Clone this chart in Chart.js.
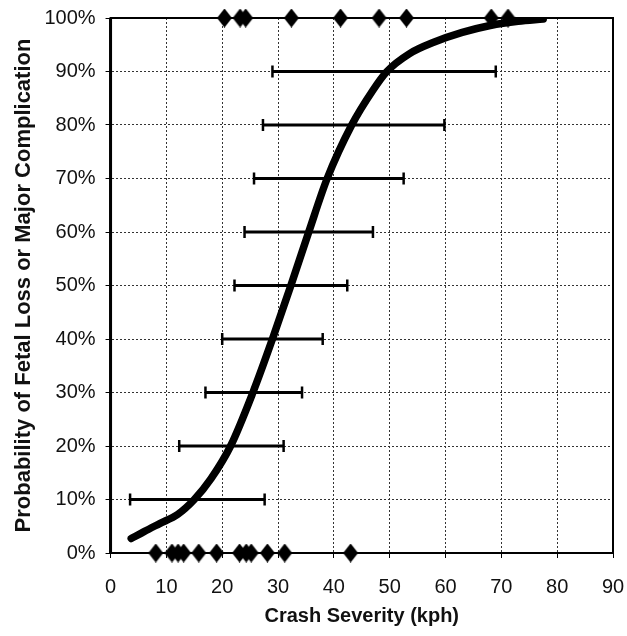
<!DOCTYPE html>
<html>
<head>
<meta charset="utf-8">
<script src="https://cdn.jsdelivr.net/npm/chart.js@4.4.1/dist/chart.umd.min.js"></script>
<style>
  html,body{margin:0;padding:0;background:#fff;}
  #wrap{width:627px;height:636px;}
</style>
</head>
<body>
<div id="wrap"><canvas id="c" width="627" height="636"></canvas></div>
<script>
// Fitted probability curve (crash severity kph -> probability %)
const curveX = [3.7, 6, 8.8, 12, 15, 18, 21.5, 25.5, 29, 32.3, 35.5, 38.8, 43.2, 47, 49.5, 53.5, 58, 63, 68, 73, 77.5];
const curveY = [2.7, 4, 5.5, 7.2, 10, 13.9, 20, 30, 40, 50, 60, 70, 80, 86.5, 90, 93.3, 95.5, 97.3, 98.6, 99.4, 99.8];

// Confidence-interval bars at each probability level
const barLevels = [10, 20, 30, 40, 50, 60, 70, 80, 90];
const barLow    = [3.5, 12.3, 17.0, 20.0, 22.2, 24.0, 25.7, 27.3, 29.0];
const barHigh   = [27.6, 31.0, 34.3, 38.0, 42.4, 47.0, 52.5, 59.8, 69.0];

// Observed cases: adverse outcome (100%) and no adverse outcome (0%)
const posCases = [20.4, 23.2, 24.2, 32.4, 41.2, 48.1, 53.0, 68.2, 71.2];
const negCases = [8.1, 11.0, 12.1, 13.1, 15.8, 19.0, 23.1, 24.3, 25.2, 28.1, 31.2, 43.0];

// Axis ticks
const xTicks = [0, 10, 20, 30, 40, 50, 60, 70, 80, 90];
const yTicks = [0, 10, 20, 30, 40, 50, 60, 70, 80, 90, 100];

// tall diamond marker
function makeDiamond(w, h) {
  const cv = document.createElement('canvas');
  cv.width = w; cv.height = h;
  const g = cv.getContext('2d');
  g.fillStyle = '#000';
  g.beginPath();
  g.moveTo(w / 2, 0); g.lineTo(w, h / 2); g.lineTo(w / 2, h); g.lineTo(0, h / 2);
  g.closePath(); g.fill();
  return cv;
}
const diamond = makeDiamond(15, 19);

const datasets = [];
datasets.push({
  label: 'Fitted curve',
  data: curveX.map((x, i) => ({x: x, y: curveY[i]})),
  showLine: true,
  borderColor: '#000',
  borderWidth: 7.5,
  pointRadius: 0,
  tension: 0.4,
  cubicInterpolationMode: 'monotone',
  borderCapStyle: 'round',
  order: 1
});
barLevels.forEach((lv, i) => {
  datasets.push({
    label: 'CI ' + lv,
    data: [{x: barLow[i], y: lv}, {x: barHigh[i], y: lv}],
    showLine: true,
    borderColor: '#000',
    borderWidth: 3,
    pointStyle: 'line',
    rotation: 90,
    pointRadius: 6,
    pointBorderWidth: 2.5,
    pointBorderColor: '#000',
    order: 2
  });
});
datasets.push({
  label: 'Positive',
  data: posCases.map(x => ({x: x, y: 100})),
  pointStyle: diamond,
  pointRadius: 7,
  showLine: false,
  clip: false,
  order: 0
});
datasets.push({
  label: 'Negative',
  data: negCases.map(x => ({x: x, y: 0})),
  pointStyle: diamond,
  pointRadius: 7,
  showLine: false,
  clip: false,
  order: 0
});

const frame = {
  id: 'frame',
  beforeDatasetsDraw(chart) {
    const a = chart.chartArea, ctx = chart.ctx;
    ctx.save();
    ctx.setLineDash([]);
    ctx.strokeStyle = '#000';
    ctx.lineWidth = 2;
    ctx.strokeRect(a.left, a.top, a.right - a.left, a.bottom - a.top);
    ctx.lineWidth = 3;
    ctx.beginPath();
    ctx.moveTo(a.left, a.top); ctx.lineTo(a.left, a.bottom);
    ctx.stroke();
    ctx.restore();
  }
};

const FONT = '"Liberation Sans", Arial, Helvetica, sans-serif';

new Chart(document.getElementById('c'), {
  type: 'scatter',
  data: {datasets},
  plugins: [frame],
  options: {
    responsive: false,
    animation: false,
    layout: {padding: {top: 18, right: 14, left: 9, bottom: 4}},
    plugins: {legend: {display: false}, tooltip: {enabled: false}},
    scales: {
      x: {
        type: 'linear', min: 0, max: 90,
        afterBuildTicks: s => { s.ticks = xTicks.map(v => ({value: v})); },
        afterFit: s => { s.paddingLeft = 0; s.paddingRight = 0; },
        ticks: {color: '#111', font: {family: FONT, size: 20}, padding: 17},
        grid: {color: '#333', lineWidth: 1, tickBorderDash: [], tickColor: '#000', tickLength: 5},
        border: {color: '#000', width: 2, dash: [2, 2]},
        title: {display: true, text: 'Crash Severity (kph)', color: '#111', font: {family: FONT, size: 20, weight: 'bold'}, padding: {top: -12, bottom: 4}}
      },
      y: {
        type: 'linear', min: 0, max: 100,
        afterBuildTicks: s => { s.ticks = yTicks.map(v => ({value: v})); },
        afterFit: s => { s.paddingTop = 0; s.paddingBottom = 0; },
        ticks: {color: '#111', font: {family: FONT, size: 20}, padding: 10, callback: v => v + '%'},
        grid: {color: '#333', lineWidth: 1, tickBorderDash: [], tickColor: '#000', tickLength: 5},
        border: {color: '#000', width: 2, dash: [2, 2]},
        title: {display: true, text: 'Probability of Fetal Loss or Major Complication', color: '#111', font: {family: FONT, size: 22, weight: 'bold'}, padding: {top: 2, bottom: -3}}
      }
    }
  }
});
</script>
</body>
</html>
